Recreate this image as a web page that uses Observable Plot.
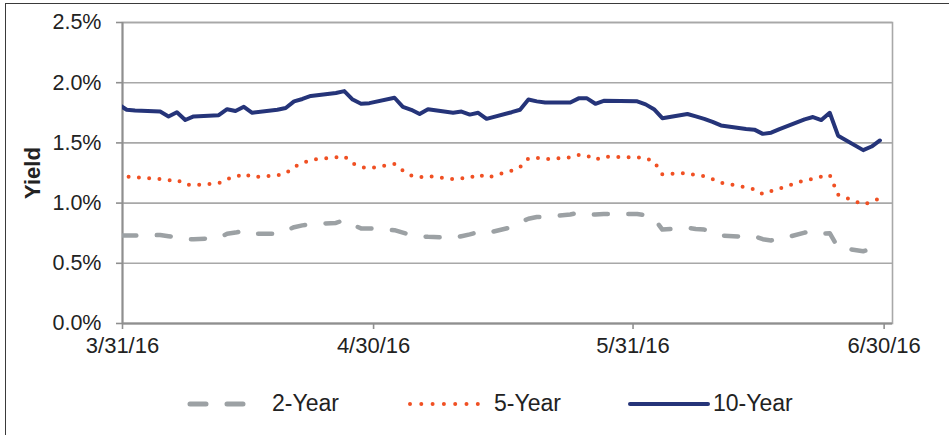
<!DOCTYPE html>
<html>
<head>
<meta charset="utf-8">
<script src="https://cdn.jsdelivr.net/npm/d3@7"></script>
<script src="https://cdn.jsdelivr.net/npm/@observablehq/plot@0.6"></script>
<style>
  html, body { margin: 0; padding: 0; background: #fff; overflow: hidden; }
  body { width: 949px; height: 435px; position: relative; font-family: "Liberation Sans", Arial, sans-serif; color: #222; }
  #border { position: absolute; left: 5px; top: 3px; width: 960px; height: 450px; border-left: 1.5px solid #3a3a3a; border-top: 1.5px solid #3a3a3a; box-sizing: border-box; }
  #chart { position: absolute; left: 0; top: 0; }
  #legend { position: absolute; left: 0; top: 388px; width: 949px; height: 32px; }
  .sw { position: absolute; top: 11px; }
  .lt { position: absolute; top: 2px; font-size: 23px; line-height: 26px; color: #222; }
</style>
</head>
<body>
<div id="border"></div>
<div id="chart"></div>
<div id="legend">
  <svg class="sw" style="left:186px" width="66" height="10"><line x1="4" y1="5" x2="62" y2="5" stroke="#9ca1a4" stroke-width="5" stroke-linecap="round" stroke-dasharray="16,21"/></svg>
  <span class="lt" style="left:272px">2-Year</span>
  <svg class="sw" style="left:405px" width="80" height="10"><line x1="5" y1="5" x2="74" y2="5" stroke="#f05023" stroke-width="4" stroke-linecap="round" stroke-dasharray="0,11.3"/></svg>
  <span class="lt" style="left:494px">5-Year</span>
  <svg class="sw" style="left:626px" width="86" height="10"><line x1="4" y1="5" x2="82" y2="5" stroke="#253479" stroke-width="4" stroke-linecap="round"/></svg>
  <span class="lt" style="left:713px">10-Year</span>
</div>
<script>
// Trading dates (2016), M/D
const dates = ["3/30","3/31","4/1","4/4","4/5","4/6","4/7","4/8","4/11","4/12","4/13","4/14","4/15",
  "4/18","4/19","4/20","4/21","4/22","4/25","4/26","4/27","4/28","4/29",
  "5/2","5/3","5/4","5/5","5/6","5/9","5/10","5/11","5/12","5/13",
  "5/16","5/17","5/18","5/19","5/20","5/23","5/24","5/25","5/26","5/27",
  "5/31","6/1","6/2","6/3","6/6","6/7","6/8","6/9","6/10",
  "6/13","6/14","6/15","6/16","6/17","6/20","6/21","6/22","6/23","6/24",
  "6/27","6/28","6/29"];
const twoYear = [0.73,0.73,0.73,0.735,0.725,0.715,0.70,0.70,0.71,0.745,0.755,0.77,0.745,
  0.745,0.77,0.80,0.815,0.825,0.835,0.86,0.82,0.79,0.79,
  0.775,0.755,0.735,0.725,0.72,0.71,0.725,0.74,0.76,0.75,
  0.80,0.84,0.87,0.885,0.885,0.905,0.92,0.905,0.905,0.91,
  0.91,0.90,0.875,0.78,0.795,0.785,0.78,0.765,0.73,
  0.72,0.725,0.70,0.69,0.70,0.755,0.765,0.745,0.75,0.63,
  0.60,0.62,0.65];
const fiveYear = [1.22,1.22,1.215,1.20,1.19,1.195,1.155,1.15,1.165,1.20,1.215,1.245,1.215,
  1.23,1.245,1.30,1.33,1.36,1.38,1.39,1.33,1.30,1.29,
  1.325,1.27,1.23,1.215,1.225,1.20,1.205,1.21,1.24,1.21,
  1.27,1.30,1.37,1.375,1.365,1.38,1.40,1.395,1.36,1.385,
  1.38,1.375,1.345,1.24,1.25,1.23,1.225,1.20,1.17,
  1.13,1.115,1.075,1.10,1.12,1.19,1.20,1.22,1.235,1.07,
  0.99,1.01,1.04];
const tenYear = [1.82,1.775,1.77,1.76,1.72,1.755,1.69,1.72,1.73,1.78,1.765,1.80,1.75,
  1.775,1.79,1.845,1.865,1.89,1.915,1.93,1.86,1.825,1.83,
  1.875,1.80,1.775,1.74,1.78,1.75,1.76,1.735,1.75,1.70,
  1.755,1.775,1.86,1.845,1.835,1.835,1.87,1.87,1.825,1.85,
  1.845,1.82,1.78,1.705,1.74,1.72,1.70,1.675,1.645,
  1.615,1.61,1.575,1.585,1.615,1.695,1.715,1.69,1.75,1.56,
  1.44,1.47,1.52];
const seriesNames = ["2-Year","5-Year","10-Year"];
const yTicks = [0, 0.5, 1.0, 1.5, 2.0, 2.5];
const xTickLabels = ["3/31/16","4/30/16","5/31/16","6/30/16"];
const xDomainLabels = ["3/31/16","7/1/16"];

const parseTick = d3.utcParse("%m/%d/%y");
const parseDay = s => { const [m, d] = s.split("/").map(Number); return new Date(Date.UTC(2016, m - 1, d, 12)); };
const xTicks = xTickLabels.map(parseTick);
const xDomain = xDomainLabels.map(parseTick);

const rows = [];
dates.forEach((s, i) => {
  const t = parseDay(s);
  rows.push({date: t, series: seriesNames[0], value: twoYear[i]});
  rows.push({date: t, series: seriesNames[1], value: fiveYear[i]});
  rows.push({date: t, series: seriesNames[2], value: tenYear[i]});
});
const of = name => rows.filter(r => r.series === name);

const fmtX = d3.utcFormat("%-m/%-d/%y");

const chart = Plot.plot({
  width: 949,
  height: 372,
  marginLeft: 122,
  marginRight: 57,
  marginTop: 22,
  marginBottom: 49,
  style: {fontFamily: "'Liberation Sans', Arial, sans-serif", fontSize: "21px", color: "#222", background: "transparent"},
  x: {type: "utc", domain: xDomain},
  y: {domain: [0, 2.5]},
  marks: [
    Plot.gridY(yTicks, {stroke: "#a8a8a8", strokeOpacity: 1, strokeWidth: 1.6}),
    Plot.frame({stroke: "#a8a8a8", strokeWidth: 1.6}),
    Plot.axisY(yTicks, {tickSize: 6, tickPadding: 15, stroke: "#8f8f8f", strokeWidth: 1.6, fill: "#222", fontSize: 21.5, tickFormat: d => d.toFixed(1) + "%", label: null}),
    Plot.axisX(xTicks, {tickSize: 6, tickPadding: 8, stroke: "#8f8f8f", strokeWidth: 1.6, fill: "#222", fontSize: 22, tickFormat: fmtX, label: null}),
    Plot.ruleX([xDomain[0]], {stroke: "#8f8f8f", strokeWidth: 2}),
    Plot.ruleY([0], {stroke: "#8f8f8f", strokeWidth: 2}),
    Plot.line(of("2-Year"), {x: "date", y: "value", stroke: "#9ca1a4", strokeWidth: 4.5, strokeDasharray: "14,20.5", strokeDashoffset: -4, strokeLinecap: "round", strokeLinejoin: "round", clip: true}),
    Plot.line(of("5-Year"), {x: "date", y: "value", stroke: "#f05023", strokeWidth: 4, strokeDasharray: "0,10.3", strokeLinecap: "round", clip: true}),
    Plot.line(of("10-Year"), {x: "date", y: "value", stroke: "#253479", strokeWidth: 4, strokeLinejoin: "round", clip: true}),
    Plot.text(["Yield"], {frameAnchor: "left", textAnchor: "middle", dx: -90, rotate: -90, fontWeight: "bold", fontSize: 22, fill: "#222"})
  ]
});
document.getElementById("chart").appendChild(chart);
</script>
</body>
</html>
